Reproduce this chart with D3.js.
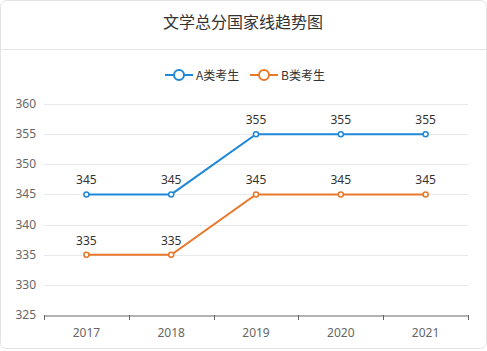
<!DOCTYPE html>
<html><head><meta charset="utf-8">
<script src="https://cdn.jsdelivr.net/npm/d3@7"></script>
<style>body{margin:0;background:#fff;font-family:"Noto Sans CJK SC","Microsoft YaHei",sans-serif;}</style>
</head><body><svg id="c" width="487" height="351"></svg>
<script>
const title = "文学总分国家线趋势图";
const categories = ["2017","2018","2019","2020","2021"];
const seriesNames = ["A类考生","B类考生"];
const seriesA = [345,345,355,355,355];
const seriesB = [335,335,345,345,345];
const yTicks = [325,330,335,340,345,350,355,360];
const colors = ["#1f88d9","#e8782a"];

(function(){
const svg = d3.select("#c");
svg.append("rect").attr("x",0.5).attr("y",0.5).attr("width",486).attr("height",348).attr("rx",6)
  .attr("fill","#fff").attr("stroke","#e3e3e3");
svg.append("text").attr("x",243).attr("y",28).attr("text-anchor","middle").attr("font-size",16).attr("fill","#333").text(title);
svg.append("line").attr("x1",1).attr("x2",486).attr("y1",49.5).attr("y2",49.5).attr("stroke","#e3e3e3");

const pl=44,pr=468,pt=104,pb=315;
const x = d3.scaleBand().domain(categories).range([pl,pr]);
const y = d3.scaleLinear().domain([325,360]).range([pb,pt]);

const g = svg.append("g");
g.selectAll(".grid").data(yTicks.slice(1)).join("line")
  .attr("x1",pl).attr("x2",pr).attr("y1",d=>Math.round(y(d))+0.5).attr("y2",d=>Math.round(y(d))+0.5)
  .attr("stroke","#e6e9ee");
g.selectAll(".yl").data(yTicks).join("text").attr("x",pl-8).attr("y",d=>y(d)+4).attr("text-anchor","end")
  .attr("font-size",12).attr("fill","#666").attr("font-family","Noto Sans, sans-serif").text(d=>d);

const xa = svg.append("g").attr("transform",`translate(0,${pb+0.5})`)
  .call(d3.axisBottom(x).tickSize(0).tickPadding(13));
xa.select(".domain").attr("stroke","#666");
xa.selectAll("text").attr("font-size",12).attr("fill","#666").attr("font-family","Noto Sans, sans-serif");
const edges = categories.map(c=>x(c)).concat([pr]);
svg.selectAll(".xt").data(edges).join("line").attr("x1",d=>Math.round(d)+0.5).attr("x2",d=>Math.round(d)+0.5)
  .attr("y1",pb).attr("y2",pb+5).attr("stroke","#666");

const cx = c=>x(c)+x.bandwidth()/2;
[seriesA,seriesB].forEach((vals,i)=>{
  const line = d3.line().x((d,j)=>cx(categories[j])).y(d=>y(d));
  svg.append("path").datum(vals).attr("d",line).attr("fill","none").attr("stroke",colors[i]).attr("stroke-width",2);
  svg.selectAll(".p"+i).data(vals).join("circle").attr("cx",(d,j)=>cx(categories[j])).attr("cy",d=>y(d)).attr("r",2.5)
    .attr("fill","#fff").attr("stroke",colors[i]).attr("stroke-width",1.5);
  svg.selectAll(".l"+i).data(vals).join("text").attr("x",(d,j)=>cx(categories[j])).attr("y",d=>y(d)-10)
    .attr("text-anchor","middle").attr("font-size",12).attr("fill","#333").attr("font-family","Noto Sans, sans-serif").text(d=>d);
});

const lx=[165,250];
seriesNames.forEach((n,i)=>{
  const lg = svg.append("g").attr("transform",`translate(${lx[i]},75)`);
  lg.append("line").attr("x1",0).attr("x2",28).attr("stroke",colors[i]).attr("stroke-width",2);
  lg.append("circle").attr("cx",14).attr("r",5).attr("fill","#fff").attr("stroke",colors[i]).attr("stroke-width",2);
  lg.append("text").attr("x",31).attr("y",4.5).attr("font-size",12).attr("fill","#333").text(n);
});
})();
</script></body></html>
